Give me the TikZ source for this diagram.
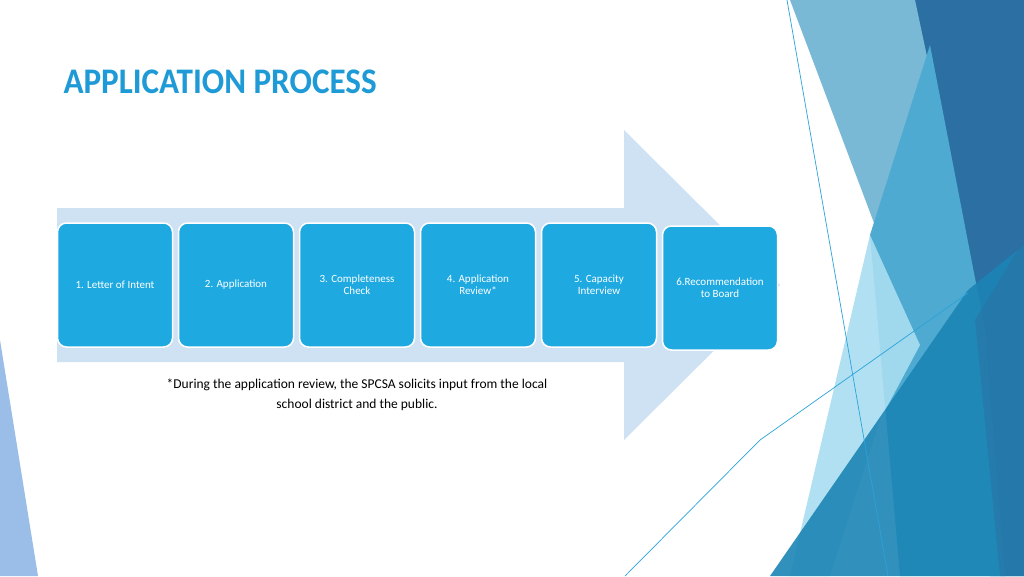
\documentclass[tikz,border=0pt]{standalone}
\usepackage{fontspec}
\setmainfont{Carlito}
\begin{document}
\begin{tikzpicture}[x=1pt,y=-1pt,
  stepbox/.style={draw=white,line width=1.5pt,fill=boxblue,rounded corners=9pt,minimum width=115pt,minimum height=124pt,text=white,align=center,font=\fontsize{11}{12}\selectfont,inner sep=2pt},
  thinline/.style={draw=linecol,line width=0.7pt}]
\definecolor{boxblue}{HTML}{1EA9E1}
\definecolor{arrowbg}{HTML}{CFE2F3}
\definecolor{titleblue}{HTML}{1E9AD6}
\definecolor{darkb}{HTML}{2B6FA3}
\definecolor{lightb}{HTML}{7AB9D6}
\definecolor{medb}{HTML}{4EAAD0}
\definecolor{cyanb}{HTML}{A9DDF1}
\definecolor{tealb}{HTML}{1C85B5}
\definecolor{linecol}{HTML}{2AA3D8}
\useasboundingbox (0,0) rectangle (1024,576);
\fill[white] (0,0) rectangle (1024,576);
% right decoration
\fill[darkb] (905,0) -- (1024,0) -- (1024,576) -- (990,576) -- cycle;
\fill[lightb] (790,0) -- (915,0) -- (985,330) -- (920,345) -- cycle;
\fill[medb] (930,45) -- (985,330) -- (1005,576) -- (900,576) -- (870,235) -- cycle;
\fill[cyanb,opacity=0.9] (870,235) -- (920,345) -- (880,420) -- (830,576) -- (790,576) -- cycle;
\fill[tealb,opacity=0.9] (770,576) -- (968,290) -- (1024,245) -- (1024,576) -- cycle;
\fill[darkb,opacity=0.5] (1024,240) -- (975,320) -- (1000,576) -- (1024,576) -- cycle;
\draw[thinline] (787,0) -- (888,576);
\draw[thinline] (625,576) -- (760,440) -- (968,293);
% left sliver
\fill[cyan!60!blue!40] (0,340) -- (38,576) -- (0,576) -- cycle;
% title
\node[anchor=west,text=titleblue,font=\fontsize{36}{40}\selectfont\bfseries] (title) at (60,82) {\scalebox{0.92}[1]{APPLICATION PROCESS}};
% arrow
\fill[arrowbg] (57,208) -- (624,208) -- (624,130) -- (780,285) -- (624,440) -- (624,362) -- (57,362) -- cycle;
% boxes
\node[stepbox] (s1) at (115,285) {1. Letter of Intent};
\node[stepbox] (s2) at (236,285) {2. Application};
\node[stepbox] (s3) at (357,285) {3. Completeness\\Check};
\node[stepbox] (s4) at (478,285) {4. Application\\Review*};
\node[stepbox] (s5) at (599,285) {5. Capacity\\Interview};
\node[stepbox] (s6) at (720,288) {6.Recommendation\\to Board};
% footnote
\node[align=center,font=\fontsize{13.5}{20}\selectfont] (note) at (357,395) {*During the application review, the SPCSA solicits input from the local\\school district and the public.};
\end{tikzpicture}
\end{document}
